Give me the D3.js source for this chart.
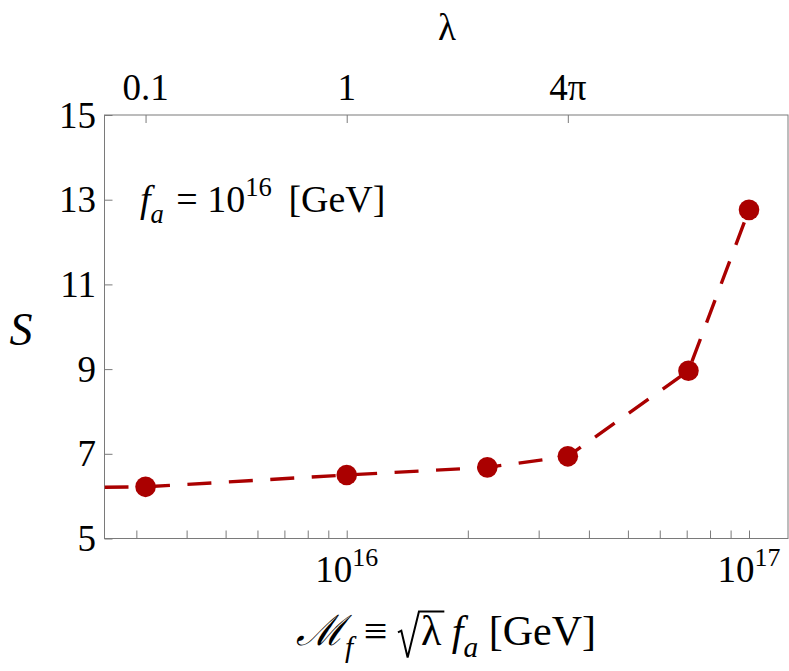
<!DOCTYPE html>
<html><head><meta charset="utf-8">
<script src="https://cdn.jsdelivr.net/npm/d3@7"></script>
<style>
body{margin:0;background:#fff}
svg{display:block}
</style>
</head><body>
<svg id="c" width="789" height="671"></svg>
<script>
// ---- data ----
const fa = 1e16;                                  // GeV
const lambdaVals = [0.1, 1, 5, 4 * Math.PI, 50, 100];
const Svals = [6.22, 6.50, 6.68, 6.94, 8.96, 12.76];
// dashed curve (starts at the left edge of the frame)
const lineLambda = [0.0625, 0.1, 1, 5, 4 * Math.PI, 50, 100];
const lineS = [6.21, 6.22, 6.50, 6.68, 6.94, 8.96, 12.76];
const yTicks = [5, 7, 9, 11, 13, 15];
const xMajorTicks = [1e16, 1e17];
const xMajorExp = ["16", "17"];
const xMinorTicks = [3e15, 4e15, 5e15, 6e15, 7e15, 8e15, 9e15,
                     2e16, 3e16, 4e16, 5e16, 6e16, 7e16, 8e16, 9e16];
const topTickLambda = [0.1, 1, 4 * Math.PI];
const topTickLabels = ["0.1", "1", "4π"];
const xDomain = [2.5e15, 1.25e17];
const yDomain = [5, 15];

// ---- layout ----
const L = 104.5, R = 788, T = 115, B = 538.5;
const red = "#aa0000", frameCol = "#7a7a7a";
const fsTick = 37, fsLab = 42, fsAnn = 38;
const FONT = "Liberation Serif";

const svg = d3.select("#c");
const x = d3.scaleLog().domain(xDomain).range([L, R]);
const y = d3.scaleLinear().domain(yDomain).range([B, T]);
const M = l => Math.sqrt(l) * fa;

function txt(xp, yp, fs, anchor) {
  return svg.append("text").attr("x", xp).attr("y", yp)
    .attr("font-family", FONT).attr("font-size", fs)
    .attr("text-anchor", anchor || "start").attr("fill", "#000");
}
function rich(t, parts, fs) {
  let cur = 0;
  parts.forEach(p => {
    const target = p.pos === "sub" ? 0.28 * fs : p.pos === "sup" ? -0.42 * fs : 0;
    const sz = p.pos ? 0.7 * fs : fs;
    const ts = t.append("tspan").text(p.t)
      .attr("font-family", FONT)
      .attr("font-size", sz)
      .attr("dy", target - cur);
    if (p.dx) ts.attr("dx", p.dx);
    if (p.i) ts.attr("font-style", "italic");
    cur = target;
  });
  return t;
}

svg.append("defs").append("clipPath").attr("id", "clip")
  .append("rect").attr("x", L).attr("y", T).attr("width", R - L).attr("height", B - T);

svg.append("rect").attr("x", L).attr("y", T).attr("width", R - L).attr("height", B - T)
  .attr("fill", "none").attr("stroke", frameCol).attr("stroke-width", 1);

// bottom axis (ticks inward)
const gBottom = svg.append("g").attr("transform", `translate(0,${B})`);
gBottom.call(d3.axisBottom(x).tickValues(xMinorTicks.concat(xMajorTicks))
  .tickSizeInner(-8).tickSizeOuter(0).tickFormat(""));
gBottom.select(".domain").remove();
gBottom.selectAll(".tick line").attr("stroke", frameCol);

xMajorTicks.forEach((v, i) => {
  rich(txt(x(v), B + 43, fsTick, "middle"),
       [{t: "10"}, {t: xMajorExp[i], pos: "sup"}], fsTick);
});

// top axis (lambda)
const gTop = svg.append("g").attr("transform", `translate(0,${T})`);
gTop.call(d3.axisTop(x).tickValues(topTickLambda.map(M))
  .tickSizeInner(-8).tickSizeOuter(0).tickFormat(""));
gTop.select(".domain").remove();
gTop.selectAll(".tick line").attr("stroke", frameCol);
topTickLambda.forEach((l, i) => {
  txt(x(M(l)), T - 15, fsTick, "middle").text(topTickLabels[i]);
});

// left axis
const gLeft = svg.append("g").attr("transform", `translate(${L},0)`);
gLeft.call(d3.axisLeft(y).tickValues(yTicks).tickSizeInner(-8).tickSizeOuter(0).tickFormat(""));
gLeft.select(".domain").remove();
gLeft.selectAll(".tick line").attr("stroke", frameCol);
yTicks.forEach(v => {
  txt(L - 8.5, y(v) + 12.5, fsTick, "end").text(v);
});

// dashed line
const line = d3.line().x(d => x(M(d[0]))).y(d => y(d[1]));
svg.append("path").datum(lineLambda.map((l, i) => [l, lineS[i]]))
  .attr("clip-path", "url(#clip)")
  .attr("d", line).attr("fill", "none").attr("stroke", red)
  .attr("stroke-width", 3.4).attr("stroke-dasharray", "24,17.5");

// points
svg.append("g").selectAll("circle").data(lambdaVals).join("circle")
  .attr("cx", l => x(M(l))).attr("cy", (l, i) => y(Svals[i]))
  .attr("r", 10.3).attr("fill", red);

// annotation
rich(txt(140, 212, fsAnn), [{t: "f", i: true}, {t: "a", i: true, pos: "sub"},
           {t: " = 10", dx: 3}, {t: "16", pos: "sup"}, {t: " [GeV]", dx: 7}], fsAnn);

// axis labels
txt(447, 40, fsTick, "middle").text("λ");
txt(21, 345, 46, "middle").attr("font-style", "italic").text("S");

const xl = txt(446, 645, fsLab, "middle");
rich(xl, [{t: "ℳ", i: true}, {t: "f", i: true, pos: "sub"},
          {t: " ≡ "}, {t: "λ", dx: 0.55 * fsLab}, {t: " "},
          {t: "f", i: true}, {t: "a", i: true, pos: "sub"}, {t: " [GeV]"}], fsLab);
(function () {
  const node = xl.node();
  const idx = node.textContent.indexOf("λ");
  const ext = node.getExtentOfChar(idx);
  const x0 = ext.x - 2, x1 = ext.x + ext.width + 3;
  const base = 645;
  const topY = base - 0.8 * fsLab;
  const p = d3.path();
  p.moveTo(x0 - 0.5 * fsLab, base - 0.3 * fsLab);
  p.lineTo(x0 - 0.42 * fsLab, base - 0.34 * fsLab);
  p.lineTo(x0 - 0.27 * fsLab, base + 0.3 * fsLab);
  p.lineTo(x0, topY);
  p.lineTo(x1, topY);
  svg.append("path").attr("d", p.toString()).attr("fill", "none")
    .attr("stroke", "#000").attr("stroke-width", 2).attr("stroke-linejoin", "miter");
})();
</script>
</body></html>
